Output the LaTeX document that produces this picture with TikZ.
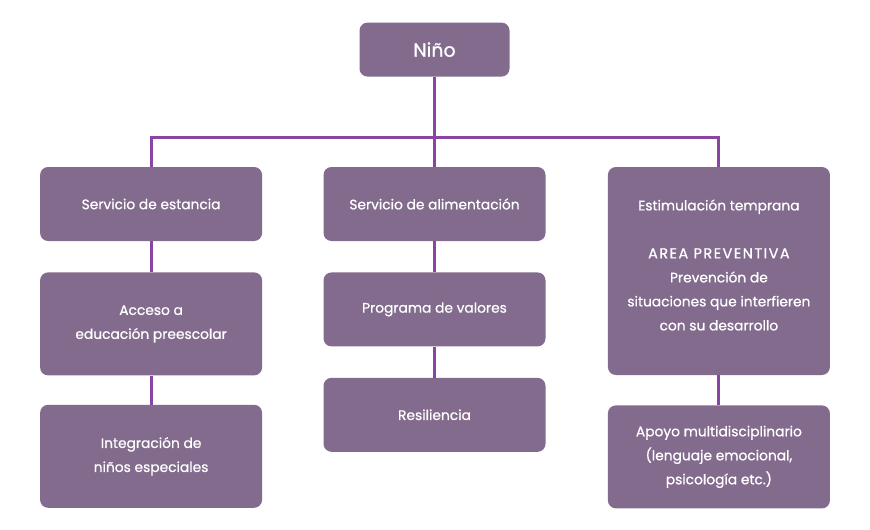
\documentclass[tikz,border=0pt]{standalone}
\usepackage{fontspec}
\setmainfont{Poppins}[FakeBold=0.8]
\usepackage{tikz}
\usetikzlibrary{positioning}
\definecolor{BoxPurple}{HTML}{826B8D}
\definecolor{LinePurple}{HTML}{8A45A3}

\begin{document}
\begin{tikzpicture}[
    x=1pt, y=1pt,
    node distance=30pt and 61pt,
    box/.style={rectangle, fill=BoxPurple, rounded corners=8pt, text=white, align=center, minimum width=222pt, minimum height=74pt, inner sep=0pt, font=\fontsize{13.8}{24}\selectfont},
    tallbox/.style={box, minimum height=103pt},
    hugebox/.style={box, minimum height=208pt},
    rootbox/.style={box, minimum width=150pt, minimum height=54pt, font=\fontsize{19}{20}\selectfont},
    link/.style={draw=LinePurple, line width=3pt}
]
\useasboundingbox (0,0) rectangle (870,-530);

% Middle column
\node[box] (alim) at (434.5,-204) {Servicio de alimentación};
\node[box, below=31pt of alim] (valores) {Programa de valores};
\node[box, below=31pt of valores] (resil) {Resiliencia};

% Root
\node[rootbox, above=90pt of alim] (nino) {Niño};

% Left column
\node[box, left=of alim] (estancia) {Servicio de estancia};
\node[tallbox, below=31pt of estancia] (acceso) {Acceso a\\educación preescolar};
\node[tallbox, below=29pt of acceso] (integra) {Integración de\\niños especiales};

% Right column
\node[hugebox, right=62pt of alim.north east, anchor=north west] (estim) {};
\node[font=\fontsize{13.8}{24}\selectfont, text=white, align=center] (estimtxt) at ([yshift=6pt]estim.center)
  {Estimulación temprana\\[24pt]{\fontsize{14.5}{24}\selectfont\addfontfeature{LetterSpace=10}AREA PREVENTIVA}\\Prevención de\\situaciones que interfieren\\con su desarrollo};
\node[tallbox, below=30pt of estim] (apoyo) {Apoyo multidisciplinario\\(lenguaje emocional,\\psicología etc.)};

% Connections
\coordinate (bar) at ([yshift=29pt]alim.north);
\draw[link] (nino) -- (alim);
\draw[link] (estancia.north) |- (bar) -| (estim.north);
\draw[link] (estancia) -- (acceso);
\draw[link] (acceso) -- (integra);
\draw[link] (alim) -- (valores);
\draw[link] (valores) -- (resil);
\draw[link] (estim) -- (apoyo);

\end{tikzpicture}
\end{document}
